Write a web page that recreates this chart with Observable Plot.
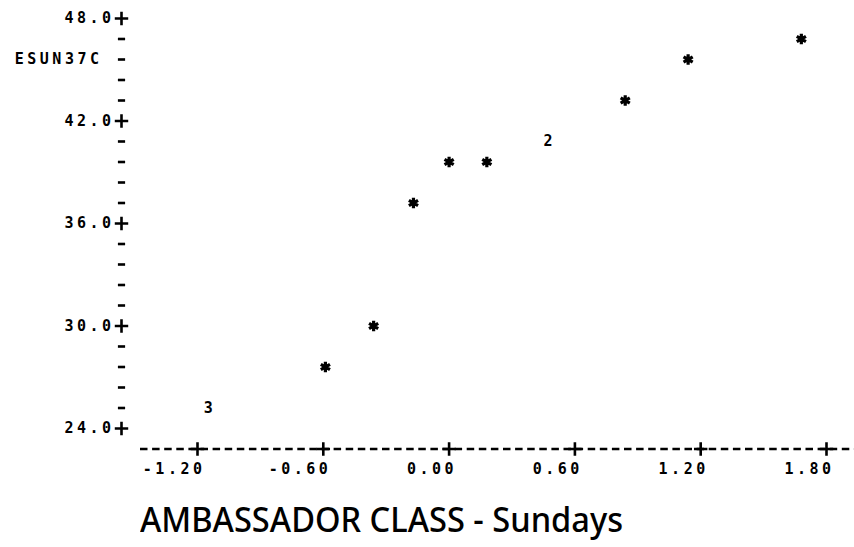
<!DOCTYPE html>
<html>
<head>
<meta charset="utf-8">
<script src="https://cdn.jsdelivr.net/npm/d3@7"></script>
<script src="https://cdn.jsdelivr.net/npm/@observablehq/plot@0.6"></script>
<style>
  html, body { margin: 0; padding: 0; background: #fff; }
  #caption { margin: 0; height: 67px; position: relative; }
  #caption span { position: absolute; left: 140px; top: 22px; font-family: "Noto Sans", sans-serif; font-weight: 500; font-size: 34px; line-height: 1; color: #000; transform-origin: 0 0; white-space: nowrap; }
</style>
</head>
<body>
<div id="chart"></div>
<div id="caption"><span>AMBASSADOR CLASS - Sundays</span></div>
<script>
// Single points (printed as "*")
const starX = [-0.59, -0.36, -0.17, 0.00, 0.18, 0.84, 1.14, 1.68];
const starY = [27.6, 30.0, 37.2, 39.6, 39.6, 43.2, 45.6, 46.8];
// Overlapping points (printed as a count)
const countX = [-1.14, 0.48];
const countY = [25.2, 40.8];
const countLabel = ["3", "2"];
// Axis ticks
const xTicks = [-1.2, -0.6, 0.0, 0.6, 1.2, 1.8];
const xTickLabels = ["-1.20", "-0.60", "0.00", "0.60", "1.20", "1.80"];
const yTicks = [24, 30, 36, 42, 48];
const yTickLabels = ["24.0", "30.0", "36.0", "42.0", "48.0"];
const yMinor = [25.2, 26.4, 27.6, 28.8, 31.2, 32.4, 33.6, 34.8, 37.2, 38.4, 39.6, 40.8, 43.2, 44.4, 45.6, 46.8];
const yAxisName = "ESUN37C";
const yAxisNameRow = 45.6;
const xAxisRow = 22.8;
const xLabelRow = 21.6;

const stars = starX.map((x, i) => ({x, y: starY[i]}));
const counts = countX.map((x, i) => ({x, y: countY[i], label: countLabel[i]}));
const xt = xTicks.map((x, i) => ({x, label: xTickLabels[i]}));
const yt = yTicks.map((y, i) => ({y, label: yTickLabels[i]}));

const mono = {fontFamily: "DejaVu Sans Mono", fontWeight: "bold", fontSize: 15, fill: "#000"};
const minus = {draw(ctx, size) { const r = Math.sqrt(size / Math.PI); ctx.moveTo(-r, 0); ctx.lineTo(r, 0); }};

const chart = Plot.plot({
  width: 854,
  height: 480,
  marginLeft: 197,
  marginRight: 28,
  marginTop: 18,
  marginBottom: 52,
  x: {domain: [-1.2, 1.8], axis: null},
  y: {domain: [24, 48], axis: null},
  style: {background: "#fff", color: "#000"},
  marks: [
    // x axis dashed line
    Plot.ruleY([xAxisRow], {stroke: "#000", strokeWidth: 2.4, strokeDasharray: "7.5,4.6", insetLeft: -57, insetRight: -28}),
    Plot.dot(xt, {x: "x", y: () => xAxisRow, symbol: "plus", r: 4.4, stroke: "#000", strokeWidth: 2.6}),
    Plot.text(xt, {x: "x", y: () => xLabelRow, text: "label", textAnchor: "end", dx: 8, ...mono}),
    // y axis
    Plot.text(yt, {y: "y", text: "label", frameAnchor: "left", textAnchor: "end", dx: -83, ...mono}),
    Plot.dot(yt, {y: "y", frameAnchor: "left", dx: -76, symbol: "plus", r: 4.4, stroke: "#000", strokeWidth: 2.6}),
    Plot.dot(yMinor, {y: d => d, frameAnchor: "left", dx: -76, symbol: minus, r: 3.6, stroke: "#000", strokeWidth: 2.6}),
    Plot.text([yAxisNameRow], {y: d => d, text: () => yAxisName, frameAnchor: "left", textAnchor: "end", dx: -95, ...mono}),
    // data
    Plot.dot(stars, {x: "x", y: "y", symbol: "asterisk", r: 5, stroke: "#000", strokeWidth: 3.2}),
    Plot.text(counts, {x: "x", y: "y", text: "label", ...mono})
  ]
});
chart.querySelectorAll("text").forEach(t => t.setAttribute("style", "letter-spacing:3.5px"));
document.getElementById("chart").appendChild(chart);

const span = document.querySelector("#caption span");
const w = span.getBoundingClientRect().width;
span.style.transform = `scaleX(${483 / w})`;
</script>
</body>
</html>
